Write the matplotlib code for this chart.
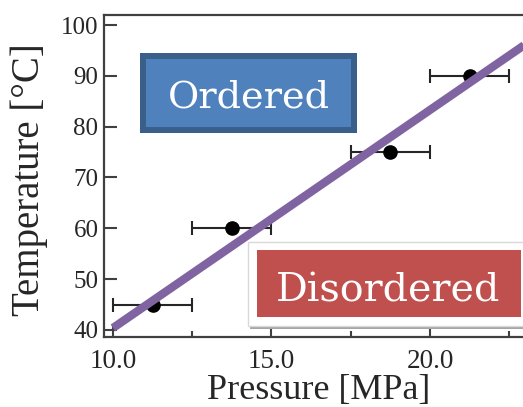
import matplotlib.pyplot as plt
from matplotlib.patches import Rectangle

# measured points (pressure in MPa, temperature in C) with x error
pressure = [11.25, 13.75, 18.75, 21.25]
temperature = [45, 60, 75, 90]
pressure_err = [1.25, 1.25, 1.25, 1.25]

# phase boundary line
line_p = [10.0, 23.5]
line_t = [40.4, 98.3]

xticks = [10.0, 15.0, 20.0]
xtick_labels = ['10.0', '15.0', '20.0']
yticks = [40, 50, 60, 70, 80, 90, 100]

W, H = 523, 407
fig = plt.figure(figsize=(W / 100, H / 100), dpi=100)
ax = fig.add_axes([104 / W, 1 - 337 / H, 0.81, (337 - 15) / H])

serif = 'Liberation Serif'
dark = '#262626'

ax.errorbar(pressure, temperature, xerr=pressure_err, fmt='o', color='black',
            ecolor=dark, elinewidth=1.5, capsize=5, capthick=1.5,
            markersize=9.5, zorder=3)
ax.plot(line_p, line_t, color='#8064A2', linewidth=6, solid_capstyle='butt', zorder=4)

ax.set_xlim(9.716, 23.08)
ax.set_ylim(38.62, 101.97)
ax.set_xticks(xticks)
ax.set_xticklabels(xtick_labels)
ax.set_xticks([12.5, 17.5, 22.5], minor=True)
ax.set_yticks(yticks)

for side in ['left', 'bottom', 'top']:
    ax.spines[side].set_color('#404040')
    ax.spines[side].set_linewidth(1.6)
ax.spines['right'].set_visible(False)

ax.tick_params(axis='both', which='major', direction='in', length=9.5, width=1.5,
               color='#404040', labelcolor=dark)
ax.tick_params(axis='y', labelsize=18, pad=4)
ax.tick_params(axis='x', labelsize=19.5, pad=9)
ax.tick_params(axis='x', which='minor', direction='in', length=4.5, width=1.5,
               color='#404040')
for lab in ax.get_xticklabels() + ax.get_yticklabels():
    lab.set_fontfamily(serif)

ax.set_xlabel('Pressure [MPa]', fontsize=26, family=serif, color=dark)
ax.set_ylabel('Temperature [\u00b0C]', fontsize=28, family=serif, color=dark)
ax.xaxis.set_label_coords(0.5076, -0.115)
ax.yaxis.set_label_coords(-0.132, 0.4876)


def fig_rect(x0, y0, x1, y1, **kw):
    # rectangle given in image pixels (top-left origin)
    r = Rectangle((x0 / W, 1 - y1 / H), (x1 - x0) / W, (y1 - y0) / H,
                  transform=fig.transFigure, **kw)
    fig.patches.append(r)


# "Ordered" label box
fig_rect(140, 53, 357, 133, facecolor='#3A5F8B', edgecolor='none', zorder=5)
fig_rect(146, 59, 351, 127, facecolor='#4F81BD', edgecolor='none', zorder=6)
fig.text(248.5 / W, 1 - 108 / H, 'Ordered', fontsize=27.5, family='DejaVu Serif',
         color='white', ha='center', va='baseline', zorder=7)

# "Disordered" label box
fig_rect(250, 325, 530, 329, facecolor='#A6A6A6', edgecolor='none', zorder=5)
fig_rect(248, 242, 530, 326, facecolor='white', edgecolor='#D9D9D9', linewidth=1, zorder=5)
fig_rect(257, 250, 521, 317, facecolor='#C0504D', edgecolor='none', zorder=6)
fig.text(388.5 / W, 1 - 302 / H, 'Disordered', fontsize=28.5, family='DejaVu Serif',
         color='white', ha='center', va='baseline', zorder=7)

fig.savefig('out.png', dpi=100)
